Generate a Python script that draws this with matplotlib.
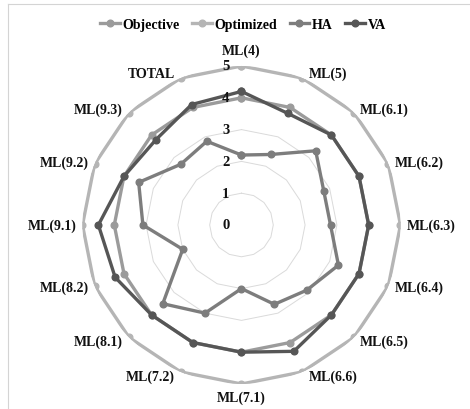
import numpy as np
import matplotlib
matplotlib.use("Agg")
import matplotlib.pyplot as plt
from matplotlib.transforms import offset_copy
from matplotlib.lines import Line2D

categories = ['ML(4)', 'ML(5)', 'ML(6.1)', 'ML(6.2)', 'ML(6.3)', 'ML(6.4)',
              'ML(6.5)', 'ML(6.6)', 'ML(7.1)', 'ML(7.2)', 'ML(8.1)', 'ML(8.2)',
              'ML(9.1)', 'ML(9.2)', 'ML(9.3)', 'TOTAL']
objective = [4, 4, 4, 4, 4, 4, 4, 4, 4, 4, 4, 4, 4, 4, 4, 4]
optimized = [5, 5, 5, 5, 5, 5, 5, 5, 5, 5, 5, 5, 5, 5, 5, 5]
ha = [2.2, 2.4, 3.3, 2.8, 2.8, 3.3, 2.9, 2.7, 2.0, 3.0, 3.5, 2.0, 3.1, 3.5, 2.7, 2.85]
va = [4.2, 3.8, 4.0, 4.0, 4.0, 4.0, 4.0, 4.3, 4.0, 4.0, 4.0, 4.3, 4.5, 4.0, 3.8, 4.1]
series_names = ['Objective', 'Optimized', 'HA', 'VA']
series_colors = ['#9b9b9b', '#b5b5b5', '#7d7d7d', '#565656']
rings = [0, 1, 2, 3, 4, 5]

font = {'family': 'Liberation Serif', 'weight': 'bold'}

fig = plt.figure(figsize=(4.7, 4.1), dpi=100)
ax = fig.add_axes([0.1755, 0.061, 0.6766, 0.7756], projection='polar')
ax.set_theta_zero_location('N')
ax.set_theta_direction(-1)
ax.set_ylim(0, 5)
ax.grid(False)
ax.spines['polar'].set_visible(False)
ax.set_xticks([])
ax.set_yticks([])
ax.patch.set_alpha(0)

n = len(categories)
theta = np.arange(n) * 2 * np.pi / n
theta_closed = np.append(theta, theta[0])

# polygonal grid rings
for r in rings[1:]:
    ax.plot(theta_closed, [r] * (n + 1), color='#dadada', lw=0.7, zorder=1)

# data series
for name, vals, col in zip(series_names, [objective, optimized, ha, va], series_colors):
    v = np.append(vals, vals[0])
    ax.plot(theta_closed, v, color=col, lw=2.4, marker='o', ms=4.8,
            mec=col, mfc=col, label=name, zorder=3)

# radial value labels, just left of the top axis
for r in rings:
    tr = offset_copy(ax.transData, fig=fig, x=-12, y=0, units='dots')
    ax.text(0, r, str(r), transform=tr, ha='right', va='center',
            fontsize=10.5, color='#111111', zorder=5, **font)

# category labels around the outer ring
for t, lab in zip(theta, categories):
    s, c = np.sin(t), np.cos(t)
    if abs(s) < 1e-6:
        ha = 'center'
        if c > 0:
            dx, dy, vaa = 0, 9, 'bottom'
        else:
            dx, dy, vaa = 0, -7, 'top'
    else:
        ha = 'left' if s > 0 else 'right'
        dx, dy, vaa = 6 * np.sign(s), 5 * c, 'center'
    tr = offset_copy(ax.transData, fig=fig, x=dx, y=dy, units='dots')
    ax.text(t, 5, lab, transform=tr, ha=ha, va=vaa, fontsize=10,
            color='#111111', **font)

leg = fig.legend(loc='center', bbox_to_anchor=(0.517, 0.938), ncol=4,
                 frameon=False, handlelength=1.4, columnspacing=0.9,
                 handletextpad=0.2, prop={'family': 'Liberation Serif',
                                          'weight': 'bold', 'size': 10})

# thin frame along the left and top edges
W, H = 470.0, 410.0
fig.add_artist(Line2D([8 / W, 8 / W], [0, 1 - 5 / H], transform=fig.transFigure,
                      color='#d4d4d4', lw=0.8))
fig.add_artist(Line2D([8 / W, 1], [1 - 5 / H, 1 - 5 / H], transform=fig.transFigure,
                      color='#d4d4d4', lw=0.8))

fig.savefig('out.png', dpi=100, facecolor='white')
